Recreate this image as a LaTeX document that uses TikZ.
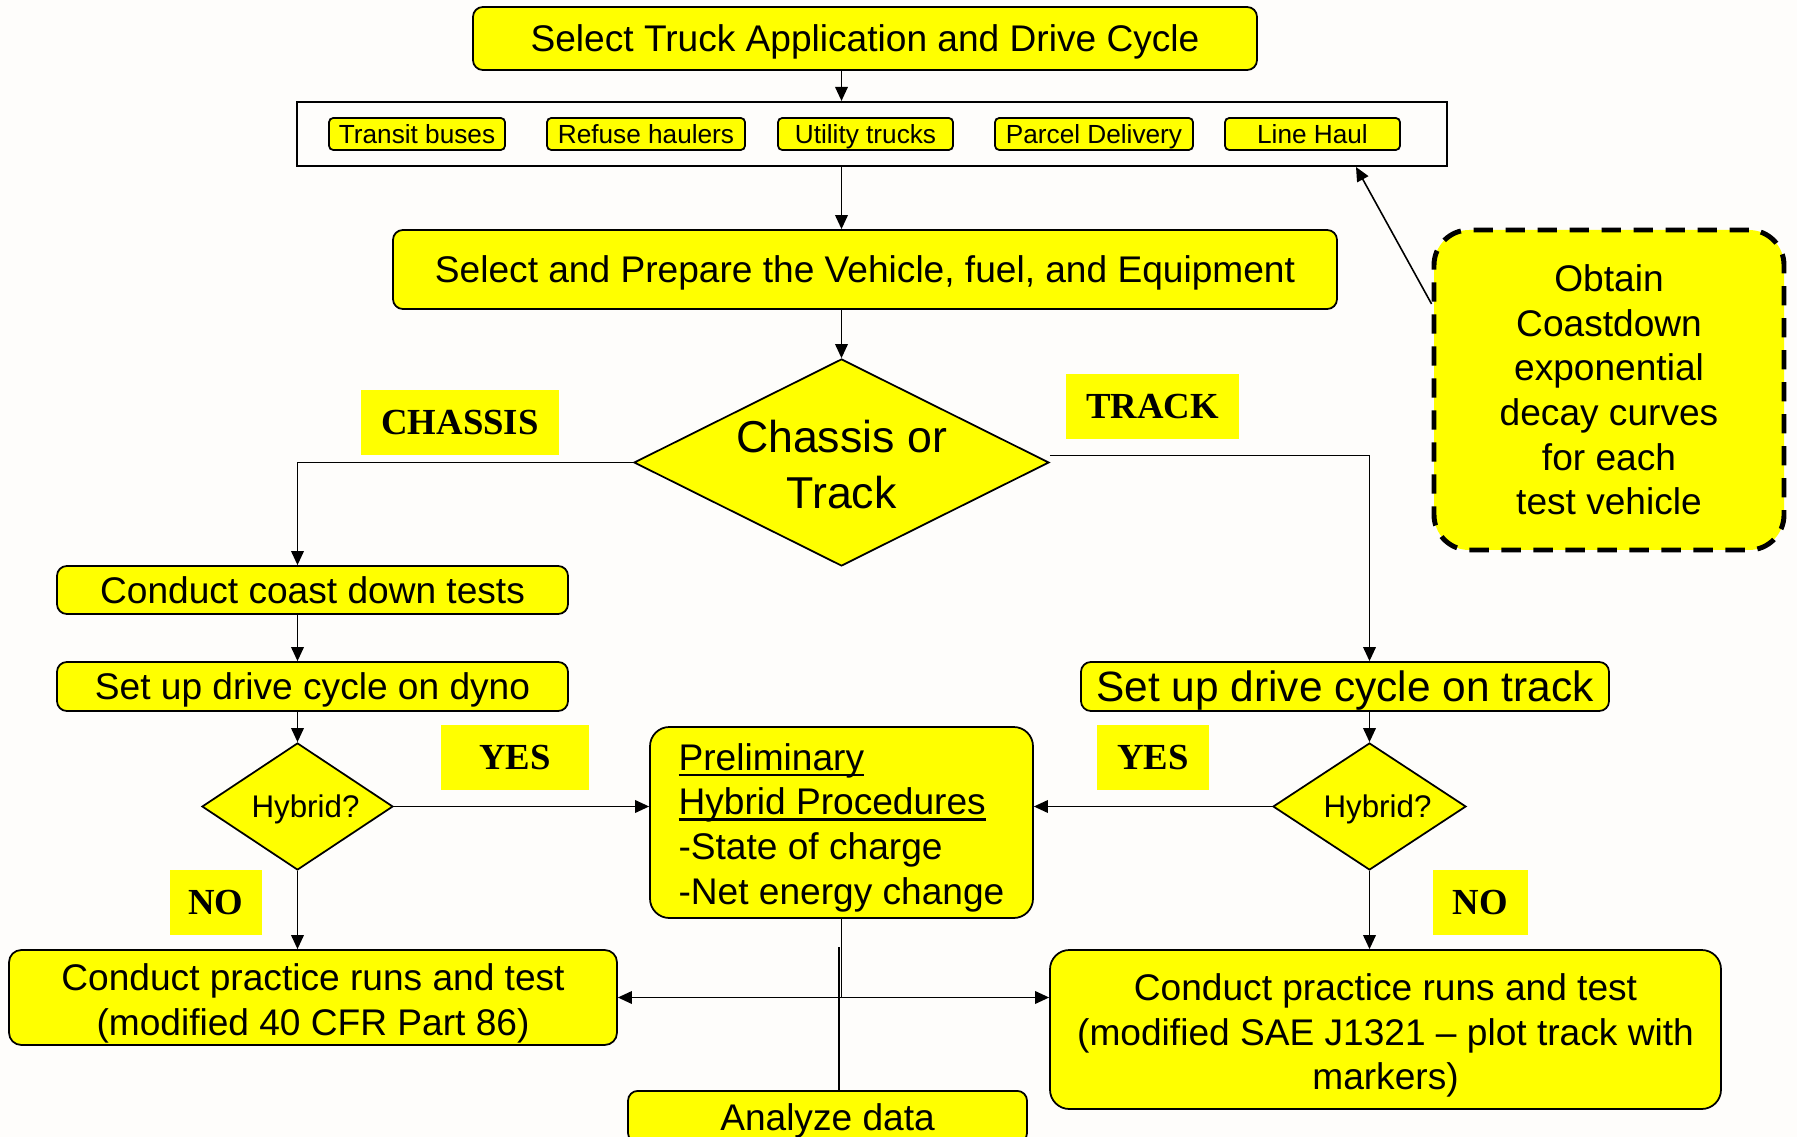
\documentclass[tikz,border=0pt]{standalone}
\usepackage{fontspec}
\setmainfont{Liberation Sans}
\newfontfamily\serifbf{Liberation Serif}
\usetikzlibrary{shapes.geometric,arrows.meta}
\definecolor{ylw}{RGB}{255,255,0}
\definecolor{bg}{RGB}{254,253,251}
\newcommand\bigtxt{\fontsize{10.55pt}{12.7pt}\selectfont}
\newcommand\undl[1]{\setbox0\hbox{#1}\rlap{\rule[-1.7pt]{\wd0}{0.7pt}}\box0}
\begin{document}
\begin{tikzpicture}[x=0.01cm,y=-0.01cm,
  >={Triangle[length=4pt,width=3.6pt]},
  conn/.style={line width=0.45pt,draw=black},
  box/.style={draw=black,line width=0.5pt,fill=ylw,rounded corners=2.8pt,inner sep=0pt,align=center,font=\bigtxt},
  one/.style={text height=7.55pt,text depth=0pt},
  sbox/.style={draw=black,line width=0.5pt,fill=ylw,rounded corners=1.2pt,inner sep=0pt,text height=5.33pt,text depth=0pt,font=\fontsize{7.45pt}{9pt}\selectfont},
  lab/.style={fill=ylw,inner sep=0pt,font=\serifbf\bfseries\fontsize{10.45pt}{12pt}\selectfont},
  dia/.style={diamond,draw=black,line width=0.5pt,fill=ylw,inner sep=0pt,align=center},
  sz/.style 2 args={minimum width=#1*0.01cm,minimum height=#2*0.01cm}]
\useasboundingbox (0,0) rectangle (1797,1137);
\fill[bg] (0,0) rectangle (1797,1137);

% top
\node[box,one,sz={784}{63}] (title) at (865,38.5) {Select Truck Application and Drive Cycle};
\node[draw=black,line width=0.6pt,inner sep=0pt,sz={1150}{64}] (frame) at (872,134) {};
\node[sbox,sz={176}{32}] (transit) at (417,134) {Transit buses};
\node[sbox,sz={198}{32}] (refuse) at (646,134) {Refuse haulers};
\node[sbox,sz={175}{32}] (utility) at (865.5,134) {Utility trucks};
\node[sbox,sz={198}{32}] (parcel) at (1094,134) {Parcel Delivery};
\node[sbox,sz={175}{32}] (linehaul) at (1312.5,134) {Line Haul};
\node[box,one,sz={944}{79}] (prep) at (865,269.5) {Select and Prepare the Vehicle, fuel, and Equipment};

% decision
\node[dia,aspect=2,sz={415}{207},font=\fontsize{12.7pt}{15.9pt}\selectfont] (ct) at (841.5,462.5) {\rule{0pt}{10.5pt}Chassis or\\Track};
\node[lab,sz={198}{65}] (chassis) at (460,422.5) {CHASSIS};
\node[lab,sz={173}{65}] (tracklab) at (1152.5,406.5) {TRACK};

% coastdown note
\node[box,sz={350}{320},rounded corners=10pt,dash pattern=on 5.5pt off 3.6pt,line width=1.4pt] (cd) at (1609,390) {Obtain\\Coastdown\\exponential\\decay curves\\for each\\test vehicle};
\coordinate (fp) at (1356,167);

% left branch
\node[box,one,sz={511}{48}] (coast) at (312.5,590) {Conduct coast down tests};
\node[box,one,sz={511}{49}] (dyno) at (312.5,686.5) {Set up drive cycle on dyno};
\node[dia,aspect=1.5,sz={191}{127},text height=6.4pt,text depth=0pt,font=\fontsize{8.9pt}{10pt}\selectfont] (hl) at (297.5,806.5) {\hspace*{0.16cm}Hybrid?};
\node[lab,sz={148}{65}] (yesl) at (515,757.5) {YES};
\node[lab,sz={92}{65}] (nol) at (216,902.5) {NO};
\node[box,sz={608}{95},rounded corners=3.5pt] (cl) at (313,997.5) {\rule{0pt}{11pt}Conduct practice runs and test\\(modified 40 CFR Part 86)};

% right branch
\node[box,sz={528}{49},text height=8.63pt,text depth=0pt,font=\fontsize{12.06pt}{14pt}\selectfont] (track) at (1345,686.5) {Set up drive cycle on track};
\node[dia,aspect=1.5,sz={193}{127},text height=6.4pt,text depth=0pt,font=\fontsize{8.9pt}{10pt}\selectfont] (hr) at (1369.5,806.5) {\hspace*{0.16cm}Hybrid?};
\node[lab,sz={112}{65}] (yesr) at (1153,757.5) {YES};
\node[lab,sz={95}{65}] (nor) at (1480.5,902.5) {NO};
\node[box,sz={671}{159},rounded corners=5.5pt] (cr) at (1385.5,1029.5) {\rule{0pt}{11pt}Conduct practice runs and test\\(modified SAE J1321 – plot track with\\markers)};

% middle
\node[box,sz={383}{191},align=left,rounded corners=5.5pt] (prelim) at (841.5,822.5) {\rule{0pt}{10.6pt}\undl{Preliminary}\\\undl{Hybrid Procedures}\\-State of charge\\-Net energy change};
\node[box,one,sz={399}{52},anchor=north] (an) at (827.5,1090) {Analyze data};
\coordinate (j) at (839,947);

% connectors
\draw[conn,->] (title.south -| ct.north) -- (frame.north -| ct.north);
\draw[conn,->] (frame.south -| ct.north) -- (prep.north -| ct.north);
\draw[conn,->] (prep.south -| ct.north) -- (ct.north);
\draw[conn,->] (ct.west) -| (hl.north |- coast.north);
\draw[conn,->] ([yshift=0.07cm]ct.east) -| (hr.north |- track.north);
\draw[conn,->] (coast.south -| hl.north) -- (dyno.north -| hl.north);
\draw[conn,->] (dyno.south -| hl.north) -- (hl.north);
\draw[conn,->] (hl.east) -- (prelim.west |- hl.east);
\draw[conn,->] (hl.south) -- (hl.south |- cl.north);
\draw[conn,->] (track.south -| hr.north) -- (hr.north);
\draw[conn,->] (hr.west) -- (prelim.east |- hr.west);
\draw[conn,->] (hr.south) -- (hr.south |- cr.north);
\draw[conn,<->] (cl.east) -- (cl.east -| cr.west);
\draw[conn] (prelim.south) -- (prelim.south |- cl.east);
\draw[conn] (j) -- (j |- an.north);
\draw[conn,->] ([yshift=0.86cm]cd.west) -- (fp);
\end{tikzpicture}
\end{document}
